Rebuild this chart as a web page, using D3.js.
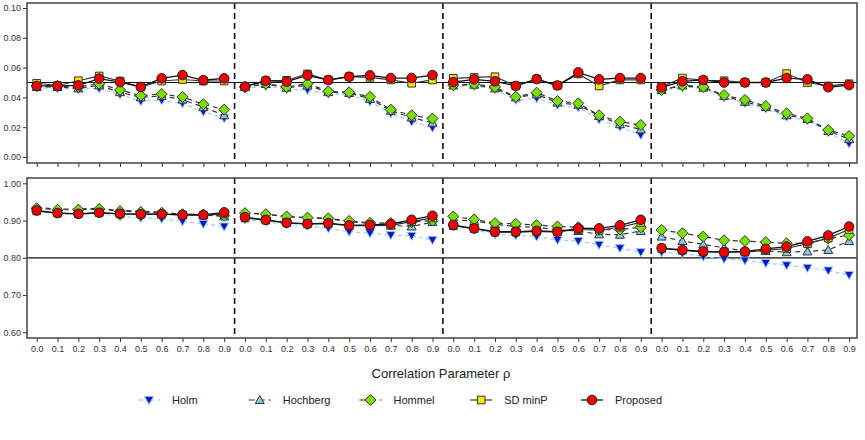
<!DOCTYPE html>
<html>
<head>
<meta charset="utf-8">
<script src="https://cdn.jsdelivr.net/npm/d3@7"></script>
<style>
  body { margin: 0; background: #fff; }
  svg { font-family: "Liberation Sans", Arial, sans-serif; }
</style>
</head>
<body>
<div id="chart"></div>
<script>
// rho tick labels, repeated for each of the 4 settings
const rhoLabels = ["0.0", "0.1", "0.2", "0.3", "0.4", "0.5", "0.6", "0.7", "0.8", "0.9"];
const methods = ["Holm", "Hochberg", "Hommel", "SD minP", "Proposed"];

// Top panel: type I error (4 settings x 10 rho values)
const holmTop = [
  0.0465, 0.046, 0.0455, 0.046, 0.042, 0.0375, 0.038, 0.036, 0.0304, 0.026,
  0.046, 0.0475, 0.0455, 0.045, 0.0423, 0.0417, 0.0372, 0.0293, 0.0237, 0.0197,
  0.0475, 0.0475, 0.0455, 0.0383, 0.0394, 0.0349, 0.0333, 0.0252, 0.0203, 0.0148,
  0.0445, 0.047, 0.046, 0.040, 0.036, 0.0325, 0.027, 0.0245, 0.0165, 0.009
];
const hochTop = [
  0.047, 0.047, 0.046, 0.048, 0.0435, 0.040, 0.041, 0.0385, 0.0335, 0.028,
  0.047, 0.049, 0.0465, 0.048, 0.0435, 0.043, 0.039, 0.031, 0.0265, 0.023,
  0.048, 0.0485, 0.046, 0.040, 0.042, 0.0365, 0.035, 0.0275, 0.022, 0.0185,
  0.045, 0.048, 0.0465, 0.041, 0.037, 0.0335, 0.028, 0.0255, 0.0175, 0.012
];
const hommelTop = [
  0.0477, 0.0477, 0.047, 0.0492, 0.045, 0.0412, 0.0423, 0.0403, 0.0354, 0.0318,
  0.047, 0.0492, 0.047, 0.0492, 0.0441, 0.0434, 0.0404, 0.0318, 0.028, 0.0258,
  0.0482, 0.049, 0.047, 0.0404, 0.0432, 0.0376, 0.036, 0.028, 0.0237, 0.0215,
  0.045, 0.0482, 0.047, 0.0416, 0.0383, 0.0342, 0.0293, 0.0259, 0.0181, 0.0141
];
const sdTop = [
  0.0495, 0.048, 0.0512, 0.0544, 0.051, 0.047, 0.051, 0.052, 0.051, 0.051,
  0.0475, 0.0512, 0.0515, 0.0558, 0.0517, 0.0539, 0.0534, 0.0517, 0.0495, 0.0517,
  0.0528, 0.0534, 0.0539, 0.0477, 0.0523, 0.048, 0.0557, 0.0477, 0.0517, 0.0517,
  0.0472, 0.053, 0.0515, 0.0512, 0.050, 0.050, 0.056, 0.050, 0.0477, 0.0492
];
const propTop = [
  0.0477, 0.0477, 0.0481, 0.0526, 0.0503, 0.047, 0.0528, 0.055, 0.0515, 0.0528,
  0.0472, 0.0512, 0.0506, 0.0548, 0.0517, 0.0539, 0.0548, 0.053, 0.053, 0.055,
  0.0503, 0.0521, 0.0508, 0.0477, 0.0523, 0.048, 0.0568, 0.0521, 0.053, 0.053,
  0.0468, 0.0508, 0.0517, 0.050, 0.050, 0.050, 0.053, 0.0521, 0.0468, 0.0482
];

// Bottom panel: power
const holmBot = [
  0.924, 0.919, 0.917, 0.918, 0.911, 0.907, 0.905, 0.898, 0.891, 0.884,
  0.903, 0.897, 0.890, 0.886, 0.879, 0.870, 0.866, 0.861, 0.859, 0.848,
  0.884, 0.875, 0.863, 0.860, 0.857, 0.848, 0.845, 0.835, 0.826, 0.815,
  0.815, 0.812, 0.803, 0.797, 0.793, 0.786, 0.780, 0.773, 0.766, 0.754
];
const hochBot = [
  0.935, 0.931, 0.931, 0.933, 0.927, 0.925, 0.922, 0.917, 0.915, 0.911,
  0.921, 0.917, 0.910, 0.907, 0.905, 0.897, 0.892, 0.887, 0.884, 0.896,
  0.902, 0.899, 0.890, 0.884, 0.882, 0.875, 0.872, 0.863, 0.862, 0.872,
  0.857, 0.845, 0.836, 0.827, 0.818, 0.818, 0.815, 0.817, 0.821, 0.845
];
const hommelBot = [
  0.933, 0.929, 0.929, 0.931, 0.925, 0.923, 0.921, 0.917, 0.916, 0.913,
  0.920, 0.917, 0.911, 0.908, 0.906, 0.899, 0.894, 0.893, 0.896, 0.900,
  0.911, 0.903, 0.893, 0.891, 0.888, 0.884, 0.882, 0.875, 0.876, 0.882,
  0.875, 0.866, 0.857, 0.847, 0.845, 0.842, 0.839, 0.839, 0.852, 0.861
];
const sdBot = [
  0.926, 0.920, 0.918, 0.921, 0.918, 0.917, 0.917, 0.915, 0.914, 0.918,
  0.907, 0.901, 0.894, 0.891, 0.892, 0.886, 0.886, 0.887, 0.897, 0.907,
  0.886, 0.878, 0.869, 0.869, 0.871, 0.870, 0.876, 0.874, 0.882, 0.895,
  0.825, 0.820, 0.816, 0.815, 0.815, 0.820, 0.825, 0.838, 0.853, 0.876
];
const propBot = [
  0.927, 0.920, 0.918, 0.921, 0.918, 0.917, 0.917, 0.915, 0.915, 0.922,
  0.909, 0.902, 0.894, 0.891, 0.893, 0.887, 0.888, 0.891, 0.902, 0.913,
  0.888, 0.879, 0.870, 0.870, 0.872, 0.870, 0.879, 0.879, 0.887, 0.902,
  0.826, 0.821, 0.817, 0.815, 0.817, 0.824, 0.830, 0.844, 0.860, 0.884
];

const topTicks = [0.00, 0.02, 0.04, 0.06, 0.08, 0.10];
const botTicks = [0.60, 0.70, 0.80, 0.90, 1.00];

const W = 865, H = 440;
const svg = d3.select("#chart").append("svg").attr("width", W).attr("height", H);

const x = d3.scaleLinear().domain([-0.466, 39.38]).range([27, 857]);

// series styling (drawn in this order, Proposed on top)
const styles = {
  "Holm":     { line: "#9dcbf0", dash: "4,3", shape: "tri-down", fill: "#0a14c8", stroke: "#8cc4f0", lw: 1.2 },
  "Hochberg": { line: "#333",    dash: "5,4", shape: "tri-up",   fill: "#8ec4e4", stroke: "#333",    lw: 1.2 },
  "Hommel":   { line: "#333",    dash: "5,4", shape: "diamond",  fill: "#78e000", stroke: "#333",    lw: 1.2 },
  "SD minP":  { line: "#333",    dash: null,  shape: "square",   fill: "#f4e600", stroke: "#333",    lw: 1.2 },
  "Proposed": { line: "#111",    dash: null,  shape: "circle",   fill: "#ee0000", stroke: "#222",    lw: 1.3 }
};

function symbolPath(shape) {
  switch (shape) {
    case "tri-down": return "M-4.5,-3.5L4.5,-3.5L0,4.5Z";
    case "tri-up":   return "M-4.5,3.5L4.5,3.5L0,-4.5Z";
    case "diamond":  return "M0,-5.5L5.5,0L0,5.5L-5.5,0Z";
    case "square":   return "M-3.8,-3.8L3.8,-3.8L3.8,3.8L-3.8,3.8Z";
  }
}

function drawMarker(g, shape, st) {
  if (shape === "circle") {
    return g.append("circle").attr("r", 4.8)
      .attr("fill", st.fill).attr("stroke", st.stroke).attr("stroke-width", 1);
  }
  return g.append("path").attr("d", symbolPath(shape))
    .attr("fill", st.fill).attr("stroke", st.stroke).attr("stroke-width", 1);
}

function drawPanel(cfg) {
  const y = d3.scaleLinear().domain(cfg.domain).range(cfg.range);
  const g = svg.append("g");

  // y axis
  g.append("g").attr("transform", `translate(${x.range()[0]},0)`)
    .call(d3.axisLeft(y).tickValues(cfg.ticks).tickSize(4).tickSizeOuter(0)
      .tickFormat(d3.format(".2f")))
    .call(a => a.select(".domain").remove())
    .call(a => a.selectAll("line").attr("stroke", "#333"))
    .call(a => a.selectAll("text").attr("fill", "#333").style("font-size", "9px").attr("x", -6));

  // x axis
  g.append("g").attr("transform", `translate(0,${cfg.bottom})`)
    .call(d3.axisBottom(x).tickValues(d3.range(40)).tickSize(4).tickSizeOuter(0)
      .tickFormat(i => cfg.labels ? rhoLabels[i % 10] : ""))
    .call(a => a.select(".domain").remove())
    .call(a => a.selectAll("line").attr("stroke", "#333"))
    .call(a => a.selectAll("text").attr("fill", "#333").style("font-size", "9px").attr("y", 8));

  // reference line
  g.append("line")
    .attr("x1", x.range()[0]).attr("x2", x.range()[1])
    .attr("y1", y(cfg.ref)).attr("y2", y(cfg.ref))
    .attr("stroke", "#111").attr("stroke-width", 1.2);

  // separators between settings
  [9.5, 19.5, 29.5].forEach(s => {
    g.append("line")
      .attr("x1", x(s)).attr("x2", x(s))
      .attr("y1", cfg.top).attr("y2", cfg.bottom)
      .attr("stroke", "#111").attr("stroke-width", 1.6).attr("stroke-dasharray", "6,4");
  });

  const line = d3.line().x(d => x(d.i)).y(d => y(d.v));

  methods.forEach((m, k) => {
    const st = styles[m];
    const vals = cfg.series[k];
    for (let s = 0; s < 4; s++) {
      const pts = d3.range(10).map(j => ({ i: s * 10 + j, v: vals[s * 10 + j] }));
      g.append("path").datum(pts).attr("d", line)
        .attr("fill", "none").attr("stroke", st.line).attr("stroke-width", st.lw)
        .attr("stroke-dasharray", st.dash);
    }
    vals.forEach((v, i) => {
      const mg = g.append("g").attr("transform", `translate(${x(i)},${y(v)})`);
      drawMarker(mg, st.shape, st);
    });
  });

  // border
  g.append("rect")
    .attr("x", x.range()[0]).attr("y", cfg.top)
    .attr("width", x.range()[1] - x.range()[0]).attr("height", cfg.bottom - cfg.top)
    .attr("fill", "none").attr("stroke", "#444").attr("stroke-width", 1.5);
}

drawPanel({
  domain: [0, 0.1], range: [157, 8], top: 3, bottom: 163,
  ticks: topTicks, ref: 0.05, labels: false,
  series: [holmTop, hochTop, hommelTop, sdTop, propTop]
});
drawPanel({
  domain: [0.6, 1.0], range: [332.3, 183.3], top: 178, bottom: 338,
  ticks: botTicks, ref: 0.80, labels: true,
  series: [holmBot, hochBot, hommelBot, sdBot, propBot]
});

// x axis title
svg.append("text")
  .attr("x", 441).attr("y", 378)
  .attr("text-anchor", "middle")
  .style("font-size", "13px").attr("fill", "#222")
  .text("Correlation Parameter ρ");

// legend
const legX = d3.scaleLinear().domain([0, 4]).range([149, 592]);
methods.forEach((m, k) => {
  const st = styles[m];
  const cx = legX(k), cy = 400;
  const lg = svg.append("g");
  lg.append("line")
    .attr("x1", cx - 11).attr("x2", cx + 11).attr("y1", cy).attr("y2", cy)
    .attr("stroke", st.line).attr("stroke-width", st.lw)
    .attr("stroke-dasharray", st.dash ? "6,4" : null);
  drawMarker(lg.append("g").attr("transform", `translate(${cx},${cy})`), st.shape, st);
  lg.append("text")
    .attr("x", cx + 23).attr("y", cy + 4)
    .style("font-size", "11px").attr("fill", "#222")
    .text(m);
});
</script>
</body>
</html>
